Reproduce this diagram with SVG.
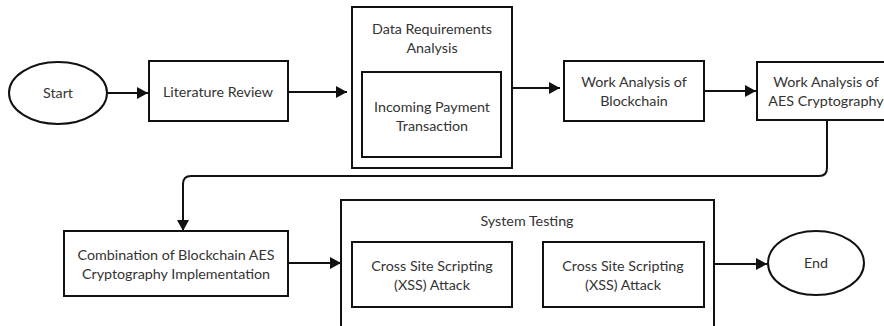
<svg xmlns="http://www.w3.org/2000/svg" width="884" height="326" viewBox="0 0 884 326">
<defs>
<style>
.box{fill:#fff;stroke:#111;stroke-width:2}
.ln{fill:none;stroke:#111;stroke-width:2}
text{font-family:Lato,"Open Sans","Liberation Sans",sans-serif;font-size:14.3px;fill:#333;text-anchor:middle}
</style>
<marker id="ah" markerWidth="11" markerHeight="12" refX="11" refY="6" orient="auto" markerUnits="userSpaceOnUse">
<path d="M0,0 L11,6 L0,12 Z" fill="#111"/>
</marker>
</defs>
<rect width="884" height="326" fill="#fff"/>
<g id="connectors">
<path class="ln" d="M107,93 H148" marker-end="url(#ah)"/>
<path class="ln" d="M288,92 H347" marker-end="url(#ah)"/>
<path class="ln" d="M512,88 H560" marker-end="url(#ah)"/>
<path class="ln" d="M704,91 H756" marker-end="url(#ah)"/>
<path class="ln" d="M827,121 V168 Q827,176 819,176 H191 Q183,176 183,184 V231" marker-end="url(#ah)"/>
<path class="ln" d="M288,263 H341" marker-end="url(#ah)"/>
<path class="ln" d="M512,274 H543"/>
<path class="ln" d="M714,264 H767" marker-end="url(#ah)"/>
</g>
<g id="start">
<ellipse class="box" cx="58" cy="93" rx="49" ry="31"/>
<text x="58" y="98">Start</text>
</g>
<g id="literature">
<rect class="box" x="149" y="61" width="139" height="60"/>
<text x="218" y="97">Literature Review</text>
</g>
<g id="data-req">
<rect class="box" x="352" y="7" width="160" height="161"/>
<text x="432" y="34">Data Requirements</text>
<text x="432" y="53">Analysis</text>
<g id="incoming">
<rect class="box" x="362" y="72" width="139" height="85"/>
<text x="432" y="112">Incoming Payment</text>
<text x="432" y="131">Transaction</text>
</g>
</g>
<g id="blockchain">
<rect class="box" x="564" y="61" width="140" height="60"/>
<text x="634" y="87">Work Analysis of</text>
<text x="634" y="106">Blockchain</text>
</g>
<g id="aes">
<rect class="box" x="757" y="62" width="140" height="58"/>
<text x="826" y="87">Work Analysis of</text>
<text x="826" y="106">AES Cryptography</text>
</g>
<g id="combination">
<rect class="box" x="64" y="231" width="224" height="65"/>
<text x="176" y="260">Combination of Blockchain AES</text>
<text x="176" y="279">Cryptography Implementation</text>
</g>
<g id="system-testing">
<rect class="box" x="341" y="200" width="373" height="140"/>
<text x="527" y="226">System Testing</text>
<g id="xss1">
<rect class="box" x="352" y="242" width="160" height="65"/>
<text x="432" y="271">Cross Site Scripting</text>
<text x="432" y="290">(XSS) Attack</text>
</g>
<g id="xss2">
<rect class="box" x="543" y="242" width="161" height="65"/>
<text x="623" y="271">Cross Site Scripting</text>
<text x="623" y="290">(XSS) Attack</text>
</g>
</g>
<g id="end">
<ellipse class="box" cx="816" cy="263" rx="48" ry="32"/>
<text x="816" y="268">End</text>
</g>
</svg>
